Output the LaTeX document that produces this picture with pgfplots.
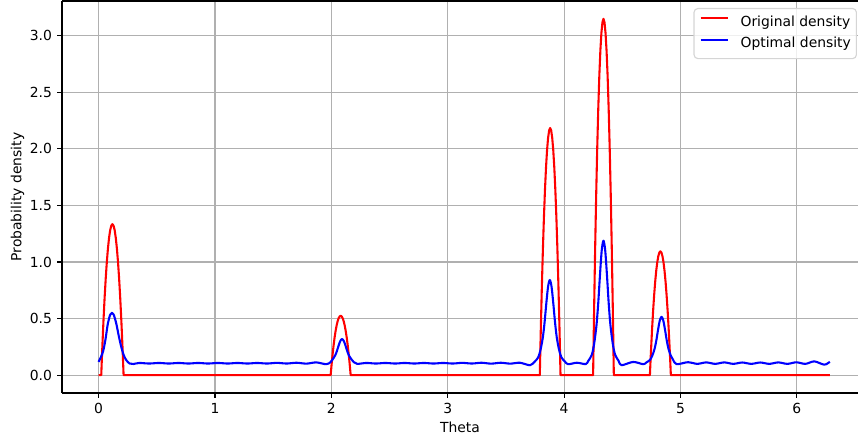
\documentclass[border=0pt]{standalone}
\usepackage{fontspec}
\setmainfont{DejaVu Sans}
\usepackage{pgfplots}
\pgfplotsset{compat=1.18}
\definecolor{gridgray}{HTML}{B0B0B0}
\definecolor{legendedge}{HTML}{D5D5D5}
\begin{document}
\begin{tikzpicture}
\path[use as bounding box] (-44.64pt,-35.28pt) rectangle (573.12pt,282.96pt);
\begin{axis}[
  at={(0pt,0pt)}, anchor=south west,
  scale only axis, width=573.12pt, height=282.24pt,
  xmin=-0.31416, xmax=6.525, ymin=-0.1575, ymax=3.3075,
  axis x line=box, axis y line=left,
  axis line style={-, black, line width=0.8pt},
  xtick={0,1,2,3,4,5,6}, ytick={0,0.5,1,1.5,2,2.5,3},
  xtick pos=left, ytick pos=left,
  tick align=outside, major tick length=3.5pt,
  tick style={black, line width=0.8pt},
  grid=major, grid style={gridgray, line width=0.8pt},
  /pgf/number format/assume math mode=true,
  tick label style={font=\fontsize{10}{12}\selectfont},
  xticklabel style={anchor=north, inner sep=0pt, yshift=-3.5pt},
  yticklabel style={anchor=east, inner sep=0pt, xshift=-3.5pt,
    /pgf/number format/.cd, fixed, fixed zerofill, precision=1},
  every axis x label/.style={at={(axis description cs:0.5,-0.0742)}, anchor=north, inner sep=0pt, font=\fontsize{10}{12}\selectfont},
  every axis y label/.style={at={(axis description cs:-0.0469,0.5)}, rotate=90, anchor=south, inner sep=0pt, font=\fontsize{10}{12}\selectfont},
  xlabel={Theta}, ylabel={Probability density},
  legend cell align=left,
  legend image code/.code={\draw[#1] (0pt,3.2pt) -- (20pt,3.2pt);},
  legend style={at={(0.9987,0.9823)}, anchor=north east,
    draw=legendedge, line width=0.8pt, rounded corners=2.8pt,
    fill=white, fill opacity=0.8, text opacity=1,
    inner xsep=4pt, inner ysep=5.3pt, row sep=5.5pt, column sep=8pt,
    font=\fontsize{10}{12}\selectfont,
    nodes={inner sep=0pt, text height=7.6pt, text depth=2.4pt}},
]
\addplot[red, line width=1.5pt, line join=round] coordinates {
(0,0) (0.023,0)
(0.0278,0.130) (0.0326,0.254) (0.0422,0.481) (0.0518,0.681) (0.0614,0.854) (0.0710,1.001) (0.0806,1.121) (0.0902,1.215) (0.0998,1.282) (0.1094,1.322) (0.1190,1.335) (0.1286,1.322) (0.1382,1.282) (0.1478,1.215) (0.1574,1.121) (0.1670,1.001) (0.1766,0.854) (0.1862,0.681) (0.1958,0.481) (0.2054,0.254) (0.2102,0.130) (0.215,0)
(1.994,0)
(1.9983,0.0512) (2.0026,0.0998) (2.0112,0.189) (2.0198,0.2678) (2.0284,0.336) (2.0370,0.3938) (2.0456,0.441) (2.0542,0.4778) (2.0628,0.504) (2.0714,0.5198) (2.0800,0.525) (2.0886,0.5198) (2.0972,0.504) (2.1058,0.4778) (2.1144,0.441) (2.1230,0.3938) (2.1316,0.336) (2.1402,0.2678) (2.1488,0.189) (2.1574,0.0998) (2.1617,0.0512) (2.166,0)
(3.791,0)
(3.7955,0.2130) (3.7999,0.4152) (3.8088,0.7866) (3.8177,1.1144) (3.8266,1.3984) (3.8355,1.6388) (3.8444,1.8354) (3.8533,1.9884) (3.8622,2.0976) (3.8711,2.1632) (3.8800,2.1850) (3.8889,2.1632) (3.8978,2.0976) (3.9067,1.9884) (3.9156,1.8354) (3.9245,1.6388) (3.9334,1.3984) (3.9423,1.1144) (3.9512,0.7866) (3.9601,0.4152) (3.9646,0.2130) (3.969,0)
(4.249,0)
(4.2535,0.3071) (4.2579,0.5985) (4.2668,1.1340) (4.2757,1.6065) (4.2846,2.0160) (4.2935,2.3625) (4.3024,2.6460) (4.3113,2.8665) (4.3202,3.0240) (4.3291,3.1185) (4.3380,3.1500) (4.3469,3.1185) (4.3558,3.0240) (4.3647,2.8665) (4.3736,2.6460) (4.3825,2.3625) (4.3914,2.0160) (4.4003,1.6065) (4.4092,1.1340) (4.4181,0.5985) (4.4226,0.3071) (4.427,0)
(4.737,0)
(4.7415,0.1068) (4.7460,0.2081) (4.7550,0.3942) (4.7640,0.5585) (4.7730,0.7008) (4.7820,0.8213) (4.7910,0.9198) (4.8000,0.9965) (4.8090,1.0512) (4.8180,1.0841) (4.8270,1.0950) (4.8360,1.0841) (4.8450,1.0512) (4.8540,0.9965) (4.8630,0.9198) (4.8720,0.8213) (4.8810,0.7008) (4.8900,0.5585) (4.8990,0.3942) (4.9080,0.2081) (4.9125,0.1068) (4.917,0)
(6.283,0)
};
\addlegendentry{Original density}
\addplot[blue, line width=1.5pt, smooth, line join=round] coordinates {
(0.000,0.118) (0.020,0.160) (0.040,0.215) (0.060,0.320) (0.080,0.457) (0.100,0.535) (0.115,0.551) (0.130,0.535) (0.152,0.457) (0.175,0.340) (0.195,0.250) (0.215,0.180) (0.238,0.133) (0.267,0.103) (0.300,0.099)
(0.350,0.108) (0.434,0.103) (0.519,0.108) (0.603,0.103) (0.688,0.108) (0.772,0.103) (0.857,0.108) (0.941,0.103) (1.026,0.108) (1.110,0.103) (1.194,0.108) (1.279,0.103) (1.363,0.108) (1.448,0.103) (1.532,0.109) (1.617,0.103) (1.701,0.110) (1.786,0.102) (1.870,0.113)
(1.955,0.097) (1.992,0.114) (2.012,0.141) (2.032,0.173) (2.047,0.211) (2.062,0.260) (2.077,0.302) (2.092,0.319) (2.107,0.302) (2.122,0.260) (2.137,0.211) (2.152,0.173) (2.172,0.141) (2.192,0.116) (2.222,0.100)
(2.300,0.108) (2.383,0.103) (2.465,0.108) (2.548,0.103) (2.630,0.108) (2.713,0.103) (2.795,0.108) (2.878,0.103) (2.960,0.108) (3.043,0.103) (3.125,0.109) (3.208,0.103) (3.290,0.110) (3.373,0.102) (3.455,0.110) (3.538,0.102) (3.620,0.110)
(3.707,0.088) (3.747,0.120) (3.777,0.157) (3.797,0.223) (3.817,0.333) (3.832,0.466) (3.847,0.635) (3.862,0.782) (3.877,0.841) (3.892,0.782) (3.907,0.635) (3.922,0.466) (3.937,0.333) (3.957,0.223) (3.977,0.157) (4.007,0.120) (4.035,0.097)
(4.110,0.110) (4.185,0.098)
(4.208,0.127) (4.238,0.181) (4.258,0.278) (4.278,0.441) (4.293,0.636) (4.308,0.885) (4.323,1.102) (4.338,1.189) (4.353,1.102) (4.368,0.885) (4.383,0.636) (4.398,0.441) (4.418,0.278) (4.438,0.181) (4.468,0.127) (4.493,0.088)
(4.593,0.117) (4.680,0.097)
(4.707,0.113) (4.737,0.134) (4.757,0.171) (4.777,0.232) (4.792,0.306) (4.807,0.401) (4.822,0.483) (4.837,0.516) (4.852,0.483) (4.867,0.401) (4.882,0.306) (4.897,0.232) (4.917,0.171) (4.937,0.134) (4.967,0.097)
(5.066,0.115) (5.143,0.100) (5.221,0.113) (5.298,0.100) (5.376,0.113) (5.453,0.100) (5.530,0.112) (5.608,0.100) (5.685,0.112) (5.763,0.100) (5.840,0.113) (5.918,0.100) (5.995,0.114) (6.073,0.100) (6.150,0.122) (6.235,0.093) (6.283,0.118)
};
\addlegendentry{Optimal density}
\end{axis}
\end{tikzpicture}
\end{document}
